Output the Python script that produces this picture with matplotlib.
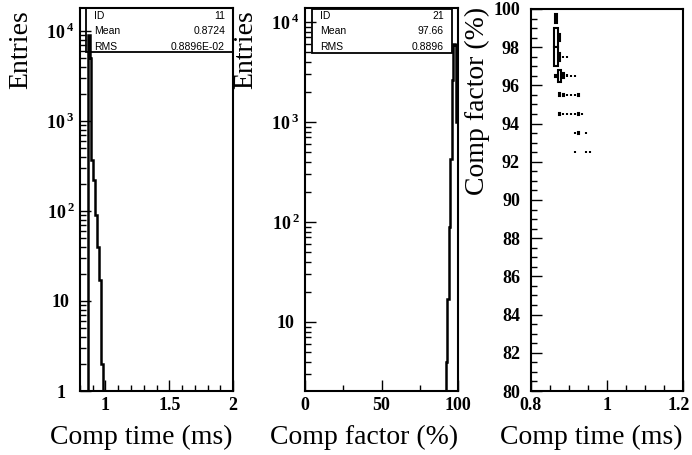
import numpy as np
import matplotlib
import matplotlib.pyplot as plt
import matplotlib.transforms as mtransforms
from matplotlib.patches import Rectangle
from matplotlib.ticker import MultipleLocator, LogLocator, FixedLocator, NullFormatter, FixedFormatter

plt.rcParams['mathtext.fontset'] = 'custom'
plt.rcParams['mathtext.rm'] = 'Liberation Serif'
plt.rcParams['mathtext.bf'] = 'Liberation Serif:bold'

# histogram 11 : compression time (ms)
time_edges = [0.86, 0.875, 0.89, 0.905, 0.92, 0.935, 0.95, 0.965, 0.98]
time_counts = [9000, 5000, 370, 220, 91, 40, 17, 2]

# histogram 21 : compression factor (%)
factor_edges = [92, 93, 94, 95, 96, 97, 98, 99, 100]
factor_counts = [4, 17, 89, 430, 2630, 6000, 5950, 1000]

# 2D box plot : factor vs time
box_time = [0.865, 0.875, 0.885, 0.895, 0.905, 0.915, 0.925, 0.935, 0.945, 0.955]
box_factor = [99.5, 98.5, 97.5, 96.5, 95.5, 94.5, 93.5, 92.5]
box_cells = [
    [1000, 0, 0, 0, 0, 0, 0, 0, 0, 0],
    [5200, 750, 0, 0, 0, 0, 0, 0, 0, 0],
    [5000, 900, 40, 60, 0, 0, 0, 0, 0, 0],
    [60, 2000, 350, 120, 60, 40, 0, 0, 0, 0],
    [0, 120, 110, 80, 60, 40, 20, 0, 0, 0],
    [0, 20, 18, 15, 12, 10, 8, 6, 0, 0],
    [0, 0, 0, 0, 0, 8, 6, 0, 3, 0],
    [0, 0, 0, 0, 0, 2, 0, 0, 1, 1],
]

W, H = 692, 455
fig = plt.figure(figsize=(W / 100, H / 100), dpi=100)


def rect(x0, y0, x1, y1):
    return [x0 / W, 1 - y1 / H, (x1 - x0) / W, (y1 - y0) / H]


serif = 'Liberation Serif'


def style(ax):
    for s in ax.spines.values():
        s.set_linewidth(1.5)
    ax.tick_params(which='both', direction='in', top=False, right=False, width=1.0)
    ax.tick_params(which='major', length=8)
    ax.tick_params(which='minor', length=4.5)
    ax.tick_params(axis='x', pad=4)
    for lab in ax.get_xticklabels() + ax.get_yticklabels():
        lab.set_fontfamily(serif)
        lab.set_fontweight('bold')
        lab.set_fontsize(13)


def log_labels(ax, majors):
    names = {1: '1', 10: '10', 100: r'$\mathbf{10}^{\,\mathbf{2}}$',
             1000: r'$\mathbf{10}^{\,\mathbf{3}}$', 10000: r'$\mathbf{10}^{\,\mathbf{4}}$'}
    ax.yaxis.set_major_locator(FixedLocator(majors))
    ax.yaxis.set_major_formatter(FixedFormatter([names[m] for m in majors]))
    ax.yaxis.set_minor_locator(LogLocator(base=10, subs=np.arange(2, 10)))
    ax.yaxis.set_minor_formatter(NullFormatter())


def stats_box(x0, y0, x1, y1, rows):
    fig.add_artist(Rectangle((x0 / W, 1 - y1 / H), (x1 - x0) / W, (y1 - y0) / H,
                             transform=fig.transFigure, fc='white', ec='black', lw=1.3, zorder=2))
    for i, (k, v) in enumerate(rows):
        y = 1 - (16 + 15.3 * i) / H
        fig.text((x0 + 8) / W, y, k, ha='left', va='center', fontsize=7.5,
                 family='Liberation Sans', zorder=3)
        fig.text((x1 - 8) / W, y, v, ha='right', va='center', fontsize=7.5,
                 family='Liberation Sans', zorder=3)


# ---- panel 1
ax1 = fig.add_axes(rect(80, 8, 233, 391))
ax1.set_yscale('log')
ax1.set_xlim(0.8, 2)
ax1.set_ylim(1, 18000)
log_labels(ax1, [1, 10, 100, 1000, 10000])
ax1.xaxis.set_major_locator(FixedLocator([1, 1.5, 2]))
ax1.xaxis.set_major_formatter(FixedFormatter(['1', '1.5', '2']))
ax1.xaxis.set_minor_locator(MultipleLocator(0.1))
style(ax1)
ax1.tick_params(axis='y', pad=14)
for lab in ax1.get_yticklabels():
    lab.set_horizontalalignment('center')

# ---- panel 2
ax2 = fig.add_axes(rect(305, 8, 458, 391))
ax2.set_yscale('log')
ax2.set_xlim(0, 100)
ax2.set_ylim(2.04, 13800)
log_labels(ax2, [10, 100, 1000, 10000])
ax2.xaxis.set_major_locator(FixedLocator([0, 50, 100]))
ax2.xaxis.set_major_formatter(FixedFormatter(['0', '50', '100']))
ax2.xaxis.set_minor_locator(MultipleLocator(25))
style(ax2)
ax2.tick_params(axis='y', pad=14)
for lab in ax2.get_yticklabels():
    lab.set_horizontalalignment('center')

# ---- panel 3
ax3 = fig.add_axes(rect(531, 9, 683, 391))
ax3.set_xlim(0.8, 1.2)
ax3.set_ylim(80, 100)
ax3.xaxis.set_major_locator(FixedLocator([0.8, 1, 1.2]))
ax3.xaxis.set_major_formatter(FixedFormatter(['0.8', '1', '1.2']))
ax3.xaxis.set_minor_locator(MultipleLocator(0.05))
ax3.yaxis.set_major_locator(MultipleLocator(2))
ax3.yaxis.set_minor_locator(MultipleLocator(0.5))
style(ax3)
ax3.tick_params(axis='y', pad=8)
# last x label sits against the right edge of the picture
last = ax3.get_xticklabels()[-1]
last.set_transform(last.get_transform() + mtransforms.ScaledTranslation(-4 / 100, 0, fig.dpi_scale_trans))

stats_box(86, 8, 233, 52, [('ID', '11'), ('Mean', '0.8724'), ('RMS', '0.8896E-02')])
stats_box(312, 9, 452, 53, [('ID', '21'), ('Mean', '97.66'), ('RMS', '0.8896')])

# histograms drawn over the stats boxes
for ax, edges, counts in [(ax1, time_edges, time_counts), (ax2, factor_edges, factor_counts)]:
    st = ax.stairs(counts, edges, baseline=0.1, color='black', lw=1.8)
    st.set_zorder(4)
    ax.set_zorder(5)
    ax.patch.set_alpha(0)

# box plot (tiny cells still drawn as a visible dot)
bw_t, bw_f = 0.01, 1.0
cmax = max(max(r) for r in box_cells)
for j, f in enumerate(box_factor):
    for i, t in enumerate(box_time):
        c = box_cells[j][i]
        if c <= 0:
            continue
        s = max(np.sqrt(c / cmax), 0.1)
        ax3.add_patch(Rectangle((t - bw_t * s / 2, f - bw_f * s / 2), bw_t * s, bw_f * s,
                                fc='white', ec='black', lw=1.5))

# axis titles
fig.text(21 / W, 1 - 10 / H, 'Entries', rotation=90, ha='center', va='top', family=serif, fontsize=20)
fig.text(246 / W, 1 - 10 / H, 'Entries', rotation=90, ha='center', va='top', family=serif, fontsize=20)
fig.text(477 / W, 1 - 7 / H, 'Comp factor (%)', rotation=90, ha='center', va='top', family=serif, fontsize=20)
fig.text(233 / W, 1 - 437 / H, 'Comp time (ms)', ha='right', va='center', family=serif, fontsize=20)
fig.text(458 / W, 1 - 437 / H, 'Comp factor (%)', ha='right', va='center', family=serif, fontsize=20)
fig.text(683 / W, 1 - 437 / H, 'Comp time (ms)', ha='right', va='center', family=serif, fontsize=20)

fig.savefig('out.png', dpi=100)
